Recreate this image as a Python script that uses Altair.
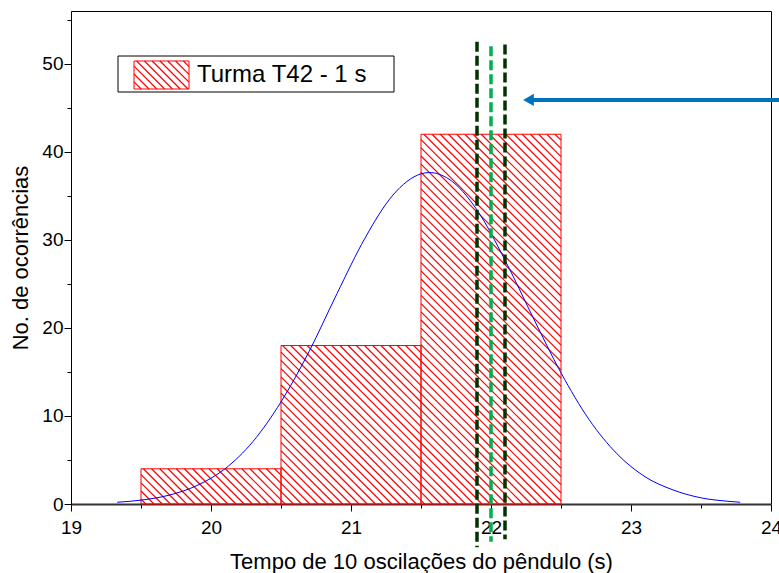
import altair as alt
import pandas as pd

# ---------------- data ----------------
bin_start = [19.5, 20.5, 21.5]
bin_end = [20.5, 21.5, 22.5]
counts = [4, 18, 42]

fit_x = [19.33, 19.5, 19.7, 19.9, 20.1, 20.3, 20.5, 20.7, 20.9, 21.1, 21.3, 21.5,
         21.56, 21.7, 21.9, 22.1, 22.3, 22.5, 22.7, 22.9, 23.1, 23.3, 23.5, 23.7, 23.78]
fit_y = [0.2, 0.44, 1.0, 2.1, 4.0, 7.1, 11.6, 17.3, 23.9, 30.2, 35.1, 37.5,
         37.65, 36.9, 33.4, 27.7, 21.2, 14.9, 9.6, 5.7, 3.1, 1.6, 0.7, 0.3, 0.2]

ref_x = [21.9, 22.0, 22.1]
ref_top = [52.5, 52.0, 52.2]
ref_bottom = [-4.9, -4.3, -4.0]
ref_color = ["#003300", "#00B050", "#003300"]

arrow_y = [45.9]
arrow_tip = [22.23]
arrow_end = [24.3]

x_ticks = [19, 19.5, 20, 20.5, 21, 21.5, 22, 22.5, 23, 23.5, 24]
y_ticks = [0, 5, 10, 15, 20, 25, 30, 35, 40, 45, 50, 55]

legend_label = "Turma T42 - 1 s"

# ---------------- layout ----------------
W, H = 700, 493
XD = [19, 24]
YD = [0, 56]
pxx = W / (XD[1] - XD[0])
pxy = H / (YD[1] - YD[0])
FONT = "Liberation Sans"
RED = "#FF0000"


def hatch_segments(rects, s):
    """rects in pixel coords (a, b, c, d) = X range, Y range (Y downward).
    lines Y - X = k with step s."""
    out = []
    for (a, b, c, d) in rects:
        kmin = int((c - b) // s) - 1
        kmax = int((d - a) // s) + 1
        for i in range(kmin, kmax + 1):
            k = i * s
            x1 = max(a, c - k)
            x2 = min(b, d - k)
            if x2 - x1 > 0.3:
                out.append((x1, x1 + k, x2, x2 + k))
    return out


# bar hatch (pixel -> data)
bar_rects = []
for a, b, h in zip(bin_start, bin_end, counts):
    bar_rects.append(((a - XD[0]) * pxx, (b - XD[0]) * pxx, H - h * pxy, H))
segs = hatch_segments(bar_rects, 8.2)
hatch_df = pd.DataFrame({
    "hx": [XD[0] + s[0] / pxx for s in segs],
    "hy": [(H - s[1]) / pxy for s in segs],
    "hx2": [XD[0] + s[2] / pxx for s in segs],
    "hy2": [(H - s[3]) / pxy for s in segs],
})

bars_df = pd.DataFrame({"start": bin_start, "end": bin_end, "count": counts})
fit_df = pd.DataFrame({"fx": fit_x, "fy": fit_y})
ref_df = pd.DataFrame({"rx": ref_x, "top": ref_top, "bottom": ref_bottom, "c": ref_color})
arrow_df = pd.DataFrame({"tip": arrow_tip, "end": arrow_end, "ay": arrow_y})

xscale = alt.Scale(domain=XD, nice=False, zero=False)
yscale = alt.Scale(domain=YD, nice=False, zero=False)

x_axis = alt.Axis(
    values=x_ticks,
    labelExpr="datum.value % 1 === 0 ? '' + datum.value : ''",
    tickSize={"condition": {"test": "datum.value % 1 !== 0", "value": 4}, "value": 7},
    tickColor="black", tickWidth=1,
    domainColor="#333333", domainWidth=2,
    labelFont=FONT, labelFontSize=19, labelColor="black", labelPadding=7,
    labelFlush=False, labelOverlap=False, labelBound=False,
    grid=False,
    title="Tempo de 10 oscilações do pêndulo (s)",
    titleFont=FONT, titleFontSize=22, titleFontWeight="normal", titleColor="black",
    titleBaseline="alphabetic", titleY=64,
)
y_axis = alt.Axis(
    values=y_ticks,
    labelExpr="datum.value % 10 === 0 ? '' + datum.value : ''",
    tickSize={"condition": {"test": "datum.value % 10 !== 0", "value": 4}, "value": 7},
    tickColor="black", tickWidth=1,
    domainColor="black", domainWidth=1,
    labelFont=FONT, labelFontSize=19, labelColor="black", labelPadding=1,
    labelOverlap=False, labelFlush=False, labelBound=False,
    grid=False,
    title="No. de ocorrências",
    titleFont=FONT, titleFontSize=22, titleFontWeight="normal", titleColor="black",
    titleBaseline="alphabetic", titleX=-44,
)

hatch = alt.Chart(hatch_df).mark_rule(color=RED, strokeWidth=1.2).encode(
    x=alt.X("hx:Q", scale=xscale, axis=x_axis),
    y=alt.Y("hy:Q", scale=yscale, axis=y_axis),
    x2="hx2:Q", y2="hy2:Q",
)

bars = alt.Chart(bars_df).mark_rect(fill=None, stroke=RED, strokeWidth=1, fillOpacity=0).encode(
    x=alt.X("start:Q", scale=xscale), x2="end:Q",
    y=alt.Y("count:Q", scale=yscale), y2=alt.datum(0),
)

fit = alt.Chart(fit_df).mark_line(color="#0000FF", strokeWidth=1, interpolate="monotone").encode(
    x=alt.X("fx:Q", scale=xscale), y=alt.Y("fy:Q", scale=yscale),
)

refs = alt.Chart(ref_df).mark_rule(strokeWidth=3.5, strokeDash=[10, 4], clip=False).encode(
    x=alt.X("rx:Q", scale=xscale), y=alt.Y("top:Q", scale=yscale), y2="bottom:Q",
    color=alt.Color("c:N", scale=None),
)

arrow_line = alt.Chart(arrow_df).mark_rule(color="#0070C0", strokeWidth=4, clip=False).encode(
    x=alt.X("tip:Q", scale=xscale), x2="end:Q", y=alt.Y("ay:Q", scale=yscale),
    xOffset=alt.value(7),
)
arrow_head = alt.Chart(arrow_df).mark_point(
    shape="triangle-left", filled=True, color="#0070C0", opacity=1, size=150, strokeWidth=0
).encode(
    x=alt.X("tip:Q", scale=xscale), y=alt.Y("ay:Q", scale=yscale),
    xOffset=alt.value(5.3),
)

# legend (pixel space inside plot area)
one = pd.DataFrame({"k": [0]})
leg_box = alt.Chart(one).mark_rect(fill="white", stroke="black", strokeWidth=1).encode(
    x=alt.value(47), x2=alt.value(323), y=alt.value(45), y2=alt.value(81),
)
sw = hatch_segments([(63, 118, 50, 78)], 7.8)
sw_df = pd.DataFrame({
    "px": [s[0] for s in sw], "py": [s[1] for s in sw],
    "px2": [s[2] for s in sw], "py2": [s[3] for s in sw],
})
leg_hatch = alt.Chart(sw_df).mark_rule(color=RED, strokeWidth=1.2).encode(
    x=alt.X("px:Q", scale=None), y=alt.Y("py:Q", scale=None),
    x2="px2:Q", y2="py2:Q",
)
leg_sw = alt.Chart(one).mark_rect(fill=None, fillOpacity=0, stroke=RED, strokeWidth=1).encode(
    x=alt.value(63), x2=alt.value(118), y=alt.value(50), y2=alt.value(78),
)
leg_text = alt.Chart(one).mark_text(
    align="left", baseline="alphabetic", font=FONT, fontSize=24, color="black"
).encode(x=alt.value(126), y=alt.value(71), text=alt.value(legend_label))

chart = alt.layer(
    hatch, bars, fit, refs, arrow_line, arrow_head, leg_box, leg_hatch, leg_sw, leg_text
).properties(
    width=W, height=H,
    autosize=alt.AutoSizeParams(type="none"),
    padding={"left": 71, "top": 11, "right": 8, "bottom": 69},
    background="white",
).configure_view(stroke="black", strokeWidth=1)

chart.save("out.html", embed_options={"renderer": "svg", "actions": False})
